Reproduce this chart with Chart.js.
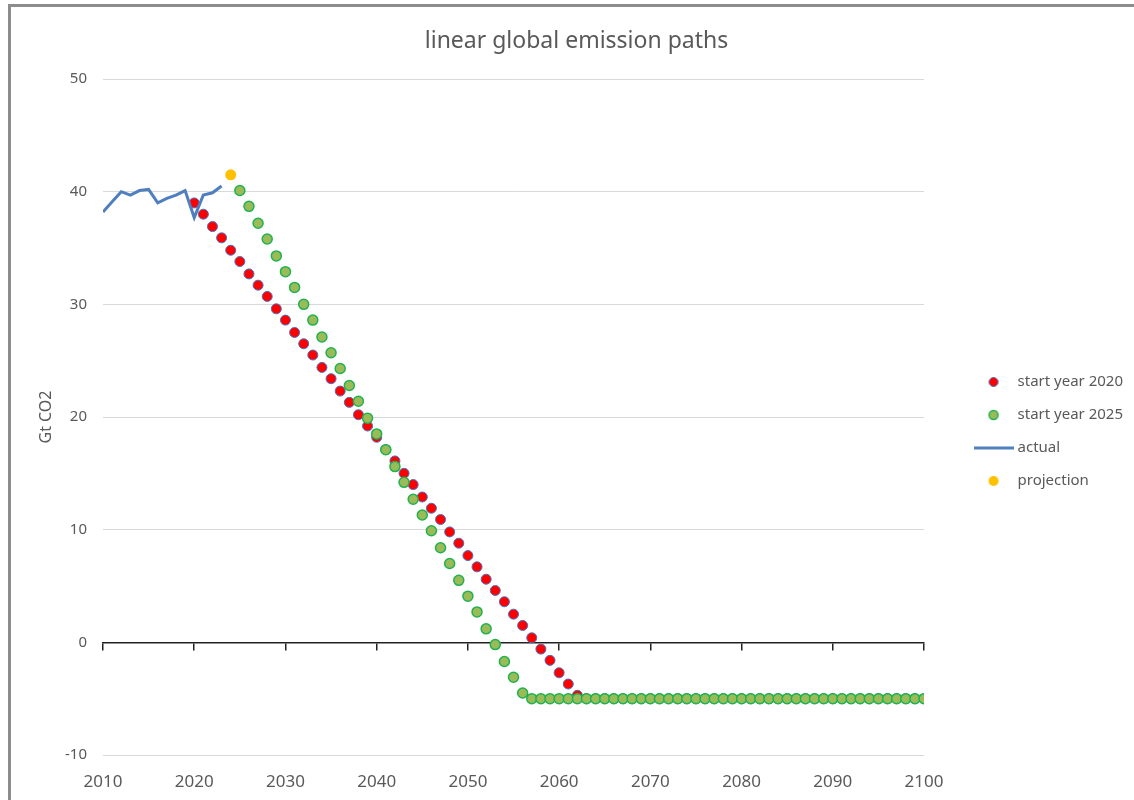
<!DOCTYPE html>
<html>
<head>
<meta charset="utf-8">
<title>linear global emission paths</title>
<script src="https://cdn.jsdelivr.net/npm/chart.js@4.4.1/dist/chart.umd.min.js"></script>
<style>
  html, body { margin: 0; padding: 0; background: #fff; overflow: hidden; }
  #frame {
    position: absolute; left: 8px; top: 4px; width: 1200px; height: 900px;
    border-left: 3px solid #8c8c8c; border-top: 3px solid #8c8c8c;
  }
  #chart { position: absolute; left: 0; top: 0; }
</style>
</head>
<body>
<div id="frame"></div>
<canvas id="chart" width="1134" height="800"></canvas>
<script>
// Global CO2 emissions (Gt) and two linear reduction paths.

const years = [
  2010, 2011, 2012, 2013, 2014, 2015, 2016, 2017, 2018, 2019,
  2020, 2021, 2022, 2023, 2024, 2025, 2026, 2027, 2028, 2029,
  2030, 2031, 2032, 2033, 2034, 2035, 2036, 2037, 2038, 2039,
  2040, 2041, 2042, 2043, 2044, 2045, 2046, 2047, 2048, 2049,
  2050, 2051, 2052, 2053, 2054, 2055, 2056, 2057, 2058, 2059,
  2060, 2061, 2062, 2063, 2064, 2065, 2066, 2067, 2068, 2069,
  2070, 2071, 2072, 2073, 2074, 2075, 2076, 2077, 2078, 2079,
  2080, 2081, 2082, 2083, 2084, 2085, 2086, 2087, 2088, 2089,
  2090, 2091, 2092, 2093, 2094, 2095, 2096, 2097, 2098, 2099,
  2100
];

// 2010 - 2023
const actual = [38.2, 39.1, 40.0, 39.7, 40.1, 40.2, 39.0, 39.4, 39.7, 40.1, 37.7, 39.7, 39.9, 40.5];

// 2024
const projection = [41.5];

// 2020 - 2100
const start2020 = [
  39.0, 38.0, 36.9, 35.9, 34.8, 33.8, 32.7, 31.7, 30.7, 29.6,
  28.6, 27.5, 26.5, 25.5, 24.4, 23.4, 22.3, 21.3, 20.2, 19.2,
  18.2, 17.1, 16.1, 15.0, 14.0, 12.9, 11.9, 10.9, 9.8, 8.8,
  7.7, 6.7, 5.6, 4.6, 3.6, 2.5, 1.5, 0.4, -0.6, -1.6,
  -2.7, -3.7, -4.7, -5, -5, -5, -5, -5, -5, -5,
  -5, -5, -5, -5, -5, -5, -5, -5, -5, -5,
  -5, -5, -5, -5, -5, -5, -5, -5, -5, -5,
  -5, -5, -5, -5, -5, -5, -5, -5, -5, -5,
  -5
];

// 2025 - 2100
const start2025 = [
  40.1, 38.7, 37.2, 35.8, 34.3,
  32.9, 31.5, 30.0, 28.6, 27.1, 25.7, 24.3, 22.8, 21.4, 19.9,
  18.5, 17.1, 15.6, 14.2, 12.7, 11.3, 9.9, 8.4, 7.0, 5.5,
  4.1, 2.7, 1.2, -0.2, -1.7, -3.1, -4.5, -5, -5, -5,
  -5, -5, -5, -5, -5, -5, -5, -5, -5, -5,
  -5, -5, -5, -5, -5, -5, -5, -5, -5, -5,
  -5, -5, -5, -5, -5, -5, -5, -5, -5, -5,
  -5, -5, -5, -5, -5, -5, -5, -5, -5, -5,
  -5
];

const yTicks = [-10, 0, 10, 20, 30, 40, 50];

const textColor = "#595959";
const fontFamily = "'Noto Sans', 'Open Sans', sans-serif";

function pairUp(values, firstYear) {
  const from = years.indexOf(firstYear);
  return values.map((v, i) => ({ x: years[from + i], y: v }));
}

// little canvases used as legend symbols
function legendSymbol(draw) {
  const c = document.createElement("canvas");
  c.width = 40;
  c.height = 14;
  draw(c.getContext("2d"));
  return c;
}

function dot(fill, stroke, lw, r) {
  return legendSymbol((ctx) => {
    ctx.beginPath();
    ctx.arc(20, 7, r, 0, Math.PI * 2);
    ctx.fillStyle = fill;
    ctx.fill();
    if (stroke) {
      ctx.lineWidth = lw;
      ctx.strokeStyle = stroke;
      ctx.stroke();
    }
  });
}

const symRed = dot("#ff0000", "#4472c4", 1, 4.5);
const symGreen = dot("#9bbb59", "#1fb350", 1.5, 4.5);
const symOrange = dot("#ffc000", null, 0, 5);
const symLine = legendSymbol((ctx) => {
  ctx.beginPath();
  ctx.moveTo(0, 7);
  ctx.lineTo(40, 7);
  ctx.lineWidth = 3;
  ctx.strokeStyle = "#4f7fbf";
  ctx.stroke();
});

const ctx = document.getElementById("chart").getContext("2d");

new Chart(ctx, {
  type: "scatter",
  data: {
    datasets: [
      {
        label: "start year 2020",
        data: pairUp(start2020, 2020),
        backgroundColor: "#ff0000",
        borderColor: "#4472c4",
        borderWidth: 1,
        pointRadius: 5,
        order: 3
      },
      {
        label: "start year 2025",
        data: pairUp(start2025, 2025),
        backgroundColor: "#9bbb59",
        borderColor: "#1fb350",
        borderWidth: 1.5,
        pointRadius: 5,
        order: 2
      },
      {
        label: "actual",
        type: "line",
        data: pairUp(actual, 2010),
        borderColor: "#4f7fbf",
        backgroundColor: "#4f7fbf",
        borderWidth: 3,
        pointRadius: 0,
        pointHoverRadius: 0,
        tension: 0,
        fill: false,
        order: 0
      },
      {
        label: "projection",
        data: pairUp(projection, 2024),
        backgroundColor: "#ffc000",
        borderWidth: 0,
        pointRadius: 5.5,
        order: 1
      }
    ]
  },
  options: {
    responsive: false,
    animation: false,
    layout: {
      padding: { left: 20, right: 1, top: 0, bottom: 0 }
    },
    plugins: {
      tooltip: { enabled: false },
      title: {
        display: true,
        text: "linear global emission paths",
        color: textColor,
        font: { family: fontFamily, size: 23, weight: "normal" },
        padding: { top: 28, bottom: 23.4 }
      },
      legend: {
        position: "right",
        fullSize: false,
        align: "center",
        // empty title only used as a spacer
        title: {
          display: true,
          text: "",
          font: { size: 10 },
          padding: { top: 17, bottom: 0 }
        },
        labels: {
          usePointStyle: true,
          pointStyleWidth: 33,
          padding: 18,
          color: textColor,
          font: { family: fontFamily, size: 15 },
          generateLabels: () => [
            { text: "start year 2020", pointStyle: symRed, datasetIndex: 0, fontColor: textColor },
            { text: "start year 2025", pointStyle: symGreen, datasetIndex: 1, fontColor: textColor },
            { text: "actual", pointStyle: symLine, datasetIndex: 2, fontColor: textColor },
            { text: "projection", pointStyle: symOrange, datasetIndex: 3, fontColor: textColor }
          ]
        }
      }
    },
    scales: {
      x: {
        type: "linear",
        position: "bottom",
        min: 2010,
        max: 2100,
        ticks: {
          stepSize: 10,
          padding: 9,
          color: textColor,
          font: { family: fontFamily, size: 17 },
          callback: (v) => String(v)
        },
        grid: { display: false },
        border: { display: false },
        afterFit: (scale) => { scale.height = 45; }
      },
      // horizontal axis line crossing at zero, with tick marks
      xZero: {
        type: "linear",
        position: { y: 0 },
        min: 2010,
        max: 2100,
        ticks: { stepSize: 10, display: false },
        grid: { drawOnChartArea: false, drawTicks: true, tickLength: 7, color: "#222", lineWidth: 1.5 },
        border: { display: true, color: "#222", width: 1.5 }
      },
      y: {
        min: -10,
        max: 50,
        afterBuildTicks: (scale) => { scale.ticks = yTicks.map((v) => ({ value: v })); },
        ticks: {
          padding: 16,
          color: textColor,
          font: { family: fontFamily, size: 15 }
        },
        grid: { color: "#d9d9d9", lineWidth: 1, drawTicks: false },
        border: { display: false },
        title: {
          display: true,
          text: "Gt CO2",
          color: textColor,
          font: { family: fontFamily, size: 16 },
          padding: { top: 17, bottom: 0 }
        },
        afterFit: (scale) => { scale.width = 83; }
      },
      // empty spacer between plot and legend
      ySpacer: {
        position: "right",
        display: true,
        ticks: { display: false },
        grid: { display: false },
        border: { display: false },
        afterFit: (scale) => { scale.width = 35; }
      }
    }
  }
});
</script>
</body>
</html>
